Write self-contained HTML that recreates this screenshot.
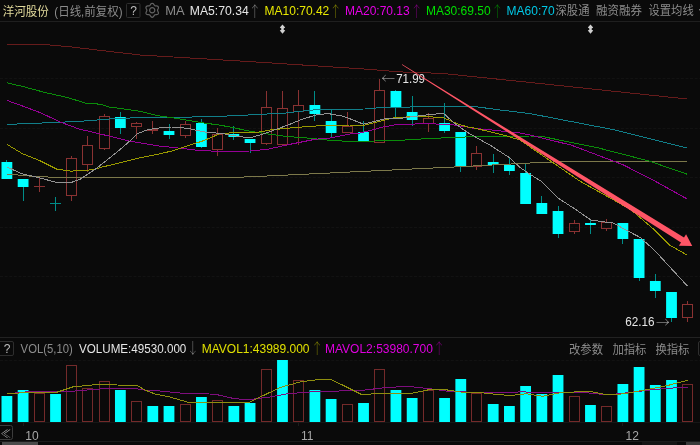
<!DOCTYPE html>
<html><head><meta charset="utf-8"><style>
html,body{margin:0;padding:0;background:#0a0a0a;width:700px;height:445px;overflow:hidden}
</style></head><body><svg width="700" height="445" viewBox="0 0 700 445" style="display:block;font-family:'Liberation Sans','Noto Sans CJK SC',sans-serif"><line x1="0" y1="78.5" x2="700" y2="78.5" stroke="#121212" stroke-width="1" stroke-dasharray="3 1.6"/><line x1="0" y1="128.5" x2="700" y2="128.5" stroke="#121212" stroke-width="1" stroke-dasharray="3 1.6"/><line x1="0" y1="177.5" x2="700" y2="177.5" stroke="#121212" stroke-width="1" stroke-dasharray="3 1.6"/><line x1="0" y1="227.5" x2="700" y2="227.5" stroke="#121212" stroke-width="1" stroke-dasharray="3 1.6"/><line x1="0" y1="276.5" x2="700" y2="276.5" stroke="#121212" stroke-width="1" stroke-dasharray="3 1.6"/><line x1="0" y1="360.5" x2="700" y2="360.5" stroke="#121212" stroke-width="1" stroke-dasharray="3 1.6"/><line x1="0" y1="21.5" x2="700" y2="21.5" stroke="#1f1f1f"/><line x1="0" y1="337.5" x2="700" y2="337.5" stroke="#222222"/><line x1="23.5" y1="423" x2="23.5" y2="426" stroke="#1c1c1c"/><line x1="298.5" y1="423" x2="298.5" y2="426" stroke="#1c1c1c"/><line x1="622.5" y1="423" x2="622.5" y2="426" stroke="#1c1c1c"/><line x1="0" y1="422.5" x2="700" y2="422.5" stroke="#161616"/><line x1="0" y1="441.5" x2="700" y2="441.5" stroke="#1c1c1c"/><line x1="6.5" y1="160" x2="6.5" y2="179" stroke="#008c88"/><rect x="1.50" y="162" width="10.8" height="17" fill="#00ffff"/><line x1="23.5" y1="179" x2="23.5" y2="201" stroke="#008c88"/><rect x="17.71" y="179" width="10.8" height="8" fill="#00ffff"/><line x1="39.5" y1="178" x2="39.5" y2="192" stroke="#8a3232"/><line x1="34" y1="186.5" x2="45" y2="186.5" stroke="#8a3232"/><line x1="55.5" y1="197" x2="55.5" y2="211" stroke="#008c88"/><line x1="50" y1="203.5" x2="61" y2="203.5" stroke="#008c88"/><line x1="71.5" y1="156" x2="71.5" y2="158" stroke="#8a3232"/><line x1="71.5" y1="196" x2="71.5" y2="201" stroke="#8a3232"/><rect x="66.5" y="158.5" width="10" height="37" fill="none" stroke="#8a3232"/><line x1="87.5" y1="136" x2="87.5" y2="145" stroke="#8a3232"/><line x1="87.5" y1="165" x2="87.5" y2="172" stroke="#8a3232"/><rect x="82.5" y="145.5" width="10" height="19" fill="none" stroke="#8a3232"/><line x1="104.5" y1="114" x2="104.5" y2="116" stroke="#8a3232"/><line x1="104.5" y1="149" x2="104.5" y2="150" stroke="#8a3232"/><rect x="99.5" y="116.5" width="10" height="32" fill="none" stroke="#8a3232"/><line x1="120.5" y1="112" x2="120.5" y2="134" stroke="#008c88"/><rect x="114.97" y="117" width="10.8" height="11" fill="#00ffff"/><line x1="136.5" y1="122" x2="136.5" y2="123" stroke="#8a3232"/><line x1="136.5" y1="127" x2="136.5" y2="139" stroke="#8a3232"/><rect x="131.5" y="123.5" width="10" height="3" fill="none" stroke="#8a3232"/><line x1="152.5" y1="121" x2="152.5" y2="129" stroke="#8a3232"/><line x1="152.5" y1="131" x2="152.5" y2="134" stroke="#8a3232"/><rect x="147.5" y="129.5" width="10" height="1" fill="none" stroke="#8a3232"/><line x1="169.5" y1="124" x2="169.5" y2="139" stroke="#008c88"/><rect x="163.60" y="131" width="10.8" height="4" fill="#00ffff"/><line x1="185.5" y1="121" x2="185.5" y2="124" stroke="#8a3232"/><line x1="185.5" y1="136" x2="185.5" y2="138" stroke="#8a3232"/><rect x="180.5" y="124.5" width="10" height="11" fill="none" stroke="#8a3232"/><line x1="201.5" y1="119" x2="201.5" y2="148" stroke="#008c88"/><rect x="196.02" y="123" width="10.8" height="24" fill="#00ffff"/><line x1="217.5" y1="128" x2="217.5" y2="134" stroke="#8a3232"/><line x1="217.5" y1="150" x2="217.5" y2="156" stroke="#8a3232"/><rect x="212.5" y="134.5" width="10" height="15" fill="none" stroke="#8a3232"/><line x1="233.5" y1="126" x2="233.5" y2="140" stroke="#008c88"/><rect x="228.44" y="134" width="10.8" height="3" fill="#00ffff"/><line x1="250.5" y1="139" x2="250.5" y2="153" stroke="#008c88"/><rect x="244.65" y="139" width="10.8" height="4" fill="#00ffff"/><line x1="266.5" y1="91" x2="266.5" y2="107" stroke="#8a3232"/><line x1="266.5" y1="144" x2="266.5" y2="145" stroke="#8a3232"/><rect x="261.5" y="107.5" width="10" height="36" fill="none" stroke="#8a3232"/><line x1="282.5" y1="91" x2="282.5" y2="108" stroke="#8a3232"/><rect x="277.5" y="108.5" width="10" height="36" fill="none" stroke="#8a3232"/><line x1="298.5" y1="90" x2="298.5" y2="105" stroke="#8a3232"/><line x1="298.5" y1="112" x2="298.5" y2="145" stroke="#8a3232"/><rect x="293.5" y="105.5" width="10" height="6" fill="none" stroke="#8a3232"/><line x1="314.5" y1="91" x2="314.5" y2="121" stroke="#008c88"/><rect x="309.49" y="105" width="10.8" height="9" fill="#00ffff"/><line x1="331.5" y1="110" x2="331.5" y2="138" stroke="#008c88"/><rect x="325.70" y="121" width="10.8" height="12" fill="#00ffff"/><line x1="347.5" y1="112" x2="347.5" y2="126" stroke="#8a3232"/><rect x="342.5" y="126.5" width="10" height="6" fill="none" stroke="#8a3232"/><line x1="363.5" y1="121" x2="363.5" y2="141" stroke="#008c88"/><rect x="358.12" y="132" width="10.8" height="9" fill="#00ffff"/><line x1="379.5" y1="79" x2="379.5" y2="90" stroke="#8a3232"/><rect x="374.5" y="90.5" width="10" height="52" fill="none" stroke="#8a3232"/><line x1="395.5" y1="90" x2="395.5" y2="117" stroke="#008c88"/><rect x="390.54" y="91" width="10.8" height="17" fill="#00ffff"/><line x1="412.5" y1="96" x2="412.5" y2="126" stroke="#008c88"/><rect x="406.75" y="112" width="10.8" height="8" fill="#00ffff"/><line x1="428.5" y1="113" x2="428.5" y2="118" stroke="#8a3232"/><line x1="428.5" y1="124" x2="428.5" y2="132" stroke="#8a3232"/><rect x="423.5" y="118.5" width="10" height="5" fill="none" stroke="#8a3232"/><line x1="444.5" y1="103" x2="444.5" y2="133" stroke="#008c88"/><rect x="439.17" y="123" width="10.8" height="8" fill="#00ffff"/><line x1="460.5" y1="132" x2="460.5" y2="172" stroke="#008c88"/><rect x="455.38" y="132" width="10.8" height="34" fill="#00ffff"/><line x1="476.5" y1="146" x2="476.5" y2="153" stroke="#8a3232"/><line x1="476.5" y1="167" x2="476.5" y2="170" stroke="#8a3232"/><rect x="471.5" y="153.5" width="10" height="13" fill="none" stroke="#8a3232"/><line x1="493.5" y1="154" x2="493.5" y2="173" stroke="#008c88"/><rect x="487.80" y="162" width="10.8" height="3" fill="#00ffff"/><line x1="509.5" y1="157" x2="509.5" y2="175" stroke="#008c88"/><rect x="504.01" y="165" width="10.8" height="6" fill="#00ffff"/><line x1="525.5" y1="164" x2="525.5" y2="204" stroke="#008c88"/><rect x="520.22" y="173" width="10.8" height="31" fill="#00ffff"/><line x1="541.5" y1="196" x2="541.5" y2="214" stroke="#008c88"/><rect x="536.43" y="203" width="10.8" height="11" fill="#00ffff"/><line x1="558.5" y1="206" x2="558.5" y2="238" stroke="#008c88"/><rect x="552.64" y="211" width="10.8" height="23" fill="#00ffff"/><line x1="574.5" y1="220" x2="574.5" y2="223" stroke="#8a3232"/><line x1="574.5" y1="232" x2="574.5" y2="234" stroke="#8a3232"/><rect x="569.5" y="223.5" width="10" height="8" fill="none" stroke="#8a3232"/><line x1="590.5" y1="220" x2="590.5" y2="234" stroke="#008c88"/><rect x="585.06" y="223" width="10.8" height="2" fill="#00ffff"/><line x1="606.5" y1="219" x2="606.5" y2="222" stroke="#8a3232"/><line x1="606.5" y1="229" x2="606.5" y2="231" stroke="#8a3232"/><rect x="601.5" y="222.5" width="10" height="6" fill="none" stroke="#8a3232"/><line x1="622.5" y1="223" x2="622.5" y2="244" stroke="#008c88"/><rect x="617.48" y="223" width="10.8" height="16" fill="#00ffff"/><line x1="639.5" y1="239" x2="639.5" y2="281" stroke="#008c88"/><rect x="633.69" y="239" width="10.8" height="39" fill="#00ffff"/><line x1="655.5" y1="274" x2="655.5" y2="298" stroke="#008c88"/><rect x="649.90" y="281" width="10.8" height="10" fill="#00ffff"/><line x1="671.5" y1="292" x2="671.5" y2="322" stroke="#008c88"/><rect x="666.11" y="292" width="10.8" height="26" fill="#00ffff"/><line x1="687.5" y1="301" x2="687.5" y2="304" stroke="#8a3232"/><line x1="687.5" y1="318" x2="687.5" y2="322" stroke="#8a3232"/><rect x="682.5" y="304.5" width="10" height="13" fill="none" stroke="#8a3232"/><polyline points="7.0,44.5 48.6,44.9 70.9,46.9 140.0,55.0 250.0,61.6 370.0,69.4 399.7,71.9 442.0,73.4 528.6,82.3 687.2,99.0" fill="none" stroke="#661b1b" stroke-width="1" stroke-linejoin="round" shape-rendering="crispEdges"/><polyline points="7.0,174.1 31.4,176.2 53.5,177.3 80.0,177.4 232.0,177.5 270.0,175.9 460.0,166.7 530.0,163.0 566.3,161.4 687.1,161.6" fill="none" stroke="#7c784a" stroke-width="1" stroke-linejoin="round" shape-rendering="crispEdges"/><polyline points="6.7,124.4 22.5,123.8 45.0,122.9 67.4,121.9 78.0,121.5 100.0,119.8 109.4,119.0 125.0,118.2 140.0,117.6 158.0,117.3 205.0,116.9 239.2,115.5 258.9,114.4 285.0,113.1 309.5,110.2 324.0,109.3 350.0,109.1 365.0,109.0 380.0,107.6 415.0,106.9 475.0,106.6 500.3,110.0 530.0,113.6 615.1,130.0 687.1,148.0" fill="none" stroke="#117f8a" stroke-width="1" stroke-linejoin="round" shape-rendering="crispEdges"/><polyline points="6.7,82.8 22.5,86.4 45.0,92.5 67.4,97.5 85.4,103.1 100.0,104.2 109.4,107.0 140.0,111.3 158.0,115.7 171.4,117.6 202.9,122.8 220.0,125.2 228.4,126.7 250.0,131.2 268.0,134.0 288.0,136.6 306.0,137.9 329.3,140.2 350.0,141.5 395.0,140.6 431.0,138.4 475.0,136.6 530.0,136.0 540.6,136.2 597.1,147.6 648.6,160.9 687.1,174.2" fill="none" stroke="#0a8c0a" stroke-width="1" stroke-linejoin="round" shape-rendering="crispEdges"/><polyline points="6.7,100.3 22.5,106.0 40.4,112.7 60.7,122.2 78.7,128.9 100.0,133.9 109.4,136.2 129.9,141.2 140.0,142.8 158.0,145.9 171.4,147.2 195.0,150.0 220.0,151.6 250.0,151.0 268.0,149.2 288.0,144.7 315.0,139.3 330.0,138.0 350.0,134.0 357.0,133.7 375.0,129.2 380.0,127.6 395.0,124.9 422.0,123.7 449.0,124.3 467.0,127.0 475.0,128.5 486.0,129.4 520.0,133.0 530.0,135.0 571.4,145.2 622.9,164.7 653.0,180.0 687.0,198.9" fill="none" stroke="#960096" stroke-width="1" stroke-linejoin="round" shape-rendering="crispEdges"/><polyline points="6.7,144.2 22.5,153.7 39.3,160.4 56.6,169.1 70.8,171.1 85.4,170.5 95.3,169.2 100.0,167.6 140.0,157.8 158.0,154.2 171.4,151.1 202.9,140.9 219.4,134.0 237.4,132.1 258.9,132.1 270.0,130.0 288.0,128.2 306.0,126.7 324.0,125.5 350.0,125.0 363.0,125.6 380.0,121.2 395.0,117.6 422.0,116.2 443.5,117.8 458.0,124.0 468.0,127.1 475.0,128.2 504.0,135.2 520.0,140.0 580.0,181.2 620.4,203.7 631.7,210.4 654.2,229.6 669.9,245.3 687.0,255.0" fill="none" stroke="#9a9a00" stroke-width="1" stroke-linejoin="round" shape-rendering="crispEdges"/><polyline points="7.0,167.0 22.0,173.8 39.3,177.7 55.0,182.1 72.3,182.1 80.0,179.3 95.3,169.2 117.3,151.9 129.9,140.9 137.7,133.5 147.2,129.9 155.7,128.3 171.4,127.0 187.2,128.3 206.0,132.2 223.0,133.6 233.8,135.7 250.0,137.9 264.3,133.6 273.3,130.4 288.0,125.0 302.4,119.2 318.5,114.2 329.3,113.8 342.0,116.0 348.0,118.0 363.3,124.1 385.3,118.6 403.3,118.0 422.0,115.4 443.5,113.3 454.3,123.1 467.0,132.1 491.4,146.0 509.3,157.6 520.1,167.5 530.2,174.5 542.0,181.7 558.5,198.4 575.0,209.0 591.0,220.1 613.4,223.1 626.0,230.0 640.3,237.5 655.0,250.8 687.6,286.3" fill="none" stroke="#939393" stroke-width="1" stroke-linejoin="round" shape-rendering="crispEdges"/><rect x="1.50" y="396" width="10.8" height="26" fill="#00ffff"/><rect x="17.71" y="390" width="10.8" height="32" fill="#00ffff"/><rect x="34.5" y="393.5" width="10" height="28" fill="none" stroke="#742a2a"/><rect x="50.13" y="394" width="10.8" height="28" fill="#00ffff"/><rect x="66.5" y="365.5" width="10" height="56" fill="none" stroke="#742a2a"/><rect x="82.5" y="388.5" width="10" height="33" fill="none" stroke="#742a2a"/><rect x="99.5" y="381.5" width="10" height="40" fill="none" stroke="#742a2a"/><rect x="114.97" y="390" width="10.8" height="32" fill="#00ffff"/><rect x="131.5" y="401.5" width="10" height="20" fill="none" stroke="#742a2a"/><rect x="147.39" y="406" width="10.8" height="16" fill="#00ffff"/><rect x="163.60" y="406" width="10.8" height="16" fill="#00ffff"/><rect x="180.5" y="404.5" width="10" height="17" fill="none" stroke="#742a2a"/><rect x="196.02" y="397" width="10.8" height="25" fill="#00ffff"/><rect x="212.5" y="400.5" width="10" height="21" fill="none" stroke="#742a2a"/><rect x="228.44" y="406" width="10.8" height="16" fill="#00ffff"/><rect x="244.65" y="403" width="10.8" height="19" fill="#00ffff"/><rect x="261.5" y="369.5" width="10" height="52" fill="none" stroke="#742a2a"/><rect x="277.07" y="360" width="10.8" height="62" fill="#00ffff"/><rect x="293.5" y="380.5" width="10" height="41" fill="none" stroke="#742a2a"/><rect x="309.49" y="390" width="10.8" height="32" fill="#00ffff"/><rect x="325.70" y="399" width="10.8" height="23" fill="#00ffff"/><rect x="342.5" y="404.5" width="10" height="17" fill="none" stroke="#742a2a"/><rect x="358.12" y="403" width="10.8" height="19" fill="#00ffff"/><rect x="374.5" y="369.5" width="10" height="52" fill="none" stroke="#742a2a"/><rect x="390.54" y="390" width="10.8" height="32" fill="#00ffff"/><rect x="406.75" y="398" width="10.8" height="24" fill="#00ffff"/><rect x="423.5" y="390.5" width="10" height="31" fill="none" stroke="#742a2a"/><rect x="439.17" y="398" width="10.8" height="24" fill="#00ffff"/><rect x="455.38" y="379" width="10.8" height="43" fill="#00ffff"/><rect x="471.5" y="393.5" width="10" height="28" fill="none" stroke="#742a2a"/><rect x="487.80" y="404" width="10.8" height="18" fill="#00ffff"/><rect x="504.01" y="406" width="10.8" height="16" fill="#00ffff"/><rect x="520.22" y="386" width="10.8" height="36" fill="#00ffff"/><rect x="536.43" y="394" width="10.8" height="28" fill="#00ffff"/><rect x="552.64" y="375" width="10.8" height="47" fill="#00ffff"/><rect x="569.5" y="396.5" width="10" height="25" fill="none" stroke="#742a2a"/><rect x="585.06" y="405" width="10.8" height="17" fill="#00ffff"/><rect x="601.5" y="406.5" width="10" height="15" fill="none" stroke="#742a2a"/><rect x="617.48" y="384" width="10.8" height="38" fill="#00ffff"/><rect x="633.69" y="367" width="10.8" height="55" fill="#00ffff"/><rect x="649.90" y="385" width="10.8" height="37" fill="#00ffff"/><rect x="666.11" y="380" width="10.8" height="42" fill="#00ffff"/><rect x="682.5" y="384.5" width="10" height="37" fill="none" stroke="#742a2a"/><polyline points="7.5,393.8 25.0,392.0 72.5,391.2 105.0,388.6 135.0,388.6 145.0,390.2 160.0,391.0 180.0,393.0 215.0,394.2 235.0,398.8 250.0,399.5 270.0,397.0 287.5,393.8 310.0,392.0 345.0,390.8 357.5,390.8 382.5,388.0 407.5,386.2 430.0,388.8 447.5,391.2 477.5,392.5 515.0,392.5 520.9,391.6 537.0,393.0 564.3,392.2 588.7,393.0 607.7,394.9 629.4,392.5 653.9,389.5 670.0,388.1 687.8,387.6" fill="none" stroke="#7e0e7e" stroke-width="1" stroke-linejoin="round" shape-rendering="crispEdges"/><polyline points="7.5,394.0 25.0,392.5 56.0,392.5 72.5,387.0 97.5,384.5 137.0,385.5 145.0,390.0 155.0,394.0 170.0,397.0 187.0,402.0 250.0,402.0 280.0,387.5 300.0,382.0 315.0,380.0 330.0,379.2 345.0,386.2 362.5,395.0 380.0,393.0 412.5,393.2 427.5,390.0 442.5,389.2 460.0,392.0 480.0,392.5 495.0,394.2 510.0,395.5 526.3,393.8 542.6,396.3 558.9,393.0 588.7,391.1 607.7,394.9 624.0,393.8 651.0,388.9 670.0,384.9 687.8,380.2" fill="none" stroke="#8e8e0e" stroke-width="1" stroke-linejoin="round" shape-rendering="crispEdges"/><text x="2.64" y="15.700000000000001" fill="#e2da9c" font-size="12" textLength="46.18" lengthAdjust="spacingAndGlyphs">洋河股份</text><text x="54.34" y="15.700000000000001" fill="#8c8c8c" font-size="12" textLength="68.27" lengthAdjust="spacingAndGlyphs">(日线,前复权)</text><rect x="126.5" y="3.5" width="13.5" height="14" rx="1" fill="none" stroke="#2e2e2e"/><text x="133.5" y="14.8" fill="#bdbdbd" font-size="12" text-anchor="middle">?</text><g transform="translate(152.2,10.3)" fill="none" stroke="#626262" stroke-width="1.2"><circle r="2.6"/><path d="M5.30,-0.00 L5.39,-0.47 L5.64,-0.99 L5.94,-1.59 L6.18,-2.25 L6.24,-2.91 L6.06,-3.50 L5.64,-3.95 L5.04,-4.23 L4.35,-4.35 L3.68,-4.39 L3.11,-4.43 L2.65,-4.59 L2.29,-4.91 L1.96,-5.38 L1.59,-5.94 L1.14,-6.48 L0.60,-6.86 L0.00,-7.00 L-0.60,-6.86 L-1.14,-6.48 L-1.59,-5.94 L-1.96,-5.38 L-2.29,-4.91 L-2.65,-4.59 L-3.11,-4.43 L-3.68,-4.39 L-4.35,-4.35 L-5.04,-4.23 L-5.64,-3.95 L-6.06,-3.50 L-6.24,-2.91 L-6.18,-2.25 L-5.94,-1.59 L-5.64,-0.99 L-5.39,-0.47 L-5.30,-0.00 L-5.39,0.47 L-5.64,0.99 L-5.94,1.59 L-6.18,2.25 L-6.24,2.91 L-6.06,3.50 L-5.64,3.95 L-5.04,4.23 L-4.35,4.35 L-3.68,4.39 L-3.11,4.43 L-2.65,4.59 L-2.29,4.91 L-1.96,5.38 L-1.59,5.94 L-1.14,6.48 L-0.60,6.86 L-0.00,7.00 L0.60,6.86 L1.14,6.48 L1.59,5.94 L1.96,5.38 L2.29,4.91 L2.65,4.59 L3.11,4.43 L3.68,4.39 L4.35,4.35 L5.04,4.23 L5.64,3.95 L6.06,3.50 L6.24,2.91 L6.18,2.25 L5.94,1.59 L5.64,0.99 L5.39,0.47 Z"/></g><text x="165.32" y="15.3" fill="#8c8c8c" font-size="12" textLength="19.38" lengthAdjust="spacingAndGlyphs">MA</text><text x="189.78" y="15.3" fill="#e6e6e6" font-size="12" textLength="58.96" lengthAdjust="spacingAndGlyphs">MA5:70.34</text><text transform="translate(248.6,16.5) scale(0.85,1)" fill="#8c8c8c" font-size="15" font-family="Noto Sans CJK SC, sans-serif" font-weight="100">↑</text><text x="264.55" y="15.3" fill="#e8e800" font-size="12">MA10:70.42</text><text transform="translate(329.2,16.5) scale(0.85,1)" fill="#8a8a00" font-size="15" font-family="Noto Sans CJK SC, sans-serif" font-weight="100">↑</text><text x="345.00" y="15.3" fill="#e600e6" font-size="12">MA20:70.13</text><text transform="translate(410.2,16.5) scale(0.85,1)" fill="#8a008a" font-size="15" font-family="Noto Sans CJK SC, sans-serif" font-weight="100">↑</text><text x="425.95" y="15.3" fill="#00e000" font-size="12">MA30:69.50</text><text transform="translate(491,16.5) scale(0.85,1)" fill="#008a00" font-size="15" font-family="Noto Sans CJK SC, sans-serif" font-weight="100">↑</text><text x="506.60" y="15.3" fill="#00c8e6" font-size="12">MA60:70</text><text x="555.5" y="15.4" fill="#8c8c8c" font-size="12" textLength="34.01" lengthAdjust="spacingAndGlyphs">深股通</text><text x="596.0" y="15.4" fill="#8c8c8c" font-size="12" textLength="45.91" lengthAdjust="spacingAndGlyphs">融资融券</text><text x="648.5" y="15.4" fill="#8c8c8c" font-size="12" textLength="45.21" lengthAdjust="spacingAndGlyphs">设置均线</text><text x="697.6" y="12.5" fill="#8c8c8c" font-size="7">▼</text><path d="M282.5,24.4 L285.2,27.6 L283.7,28.4 L283.7,29.8 L285.2,30.6 L282.5,33.8 L279.8,30.6 L281.3,29.8 L281.3,28.4 L279.8,27.6 Z" fill="#d0d0d0"/><path d="M590.5,24.4 L593.2,27.6 L591.7,28.4 L591.7,29.8 L593.2,30.6 L590.5,33.8 L587.8,30.6 L589.3,29.8 L589.3,28.4 L587.8,27.6 Z" fill="#d0d0d0"/><text transform="translate(381.4,83.4) scale(0.97,1)" fill="#bbbbbb" font-size="14" font-family="Noto Sans CJK SC, sans-serif" font-weight="100">←</text><text x="396.2" y="82.6" fill="#e6e6e6" font-size="12" textLength="28.83" lengthAdjust="spacingAndGlyphs">71.99</text><text x="625.3" y="326" fill="#e6e6e6" font-size="12" textLength="29.33" lengthAdjust="spacingAndGlyphs">62.16</text><text transform="translate(656,326.6) scale(0.97,1)" fill="#bbbbbb" font-size="14" font-family="Noto Sans CJK SC, sans-serif" font-weight="100">→</text><rect x="-4.5" y="341.5" width="18" height="14" rx="1.5" fill="none" stroke="#2e2e2e"/><text x="7" y="352.8" fill="#bdbdbd" font-size="12" text-anchor="middle">?</text><text x="20.6" y="353.3" fill="#8c8c8c" font-size="12" textLength="52.14" lengthAdjust="spacingAndGlyphs">VOL(5,10)</text><text x="79.0" y="353.3" fill="#e6e6e6" font-size="12" textLength="107.33" lengthAdjust="spacingAndGlyphs">VOLUME:49530.000</text><text transform="translate(186.4,353) scale(0.85,1)" fill="#8c8c8c" font-size="15" font-family="Noto Sans CJK SC, sans-serif" font-weight="100">↓</text><text x="201.70" y="353.3" fill="#e0e000" font-size="12">MAVOL1:43989.000</text><text transform="translate(310.8,354) scale(0.85,1)" fill="#8a8a00" font-size="15" font-family="Noto Sans CJK SC, sans-serif" font-weight="100">↑</text><text x="325.00" y="353.3" fill="#e000e0" font-size="12">MAVOL2:53980.700</text><text transform="translate(432.8,354) scale(0.85,1)" fill="#8a008a" font-size="15" font-family="Noto Sans CJK SC, sans-serif" font-weight="100">↑</text><text x="569.06" y="354.1" fill="#8c8c8c" font-size="12" textLength="33.96" lengthAdjust="spacingAndGlyphs">改参数</text><text x="612.4" y="354.1" fill="#8c8c8c" font-size="12" textLength="34.01" lengthAdjust="spacingAndGlyphs">加指标</text><text x="655.4" y="354.1" fill="#8c8c8c" font-size="12" textLength="34.11" lengthAdjust="spacingAndGlyphs">换指标</text><rect x="698.5" y="341.5" width="10" height="14" rx="1.5" fill="none" stroke="#2e2e2e"/><rect x="-4.5" y="425.5" width="17" height="14" rx="2" fill="none" stroke="#3c3c3c"/><text x="0" y="438" fill="#bdbdbd" font-size="12.5" font-family="NanumGothic, sans-serif">«</text><text x="25.35" y="440.3" fill="#a8a8a8" font-size="12">10</text><text x="301.05" y="440.3" fill="#a8a8a8" font-size="12">11</text><text x="625.50" y="440.3" fill="#a8a8a8" font-size="12">12</text><rect x="2" y="442" width="36" height="3" fill="#4a4a4a"/><rect x="642" y="442" width="35" height="3" fill="#151515"/><rect x="686" y="442" width="14" height="3" fill="#3a3a3a"/><polygon points="401.84,64.85 680.99,242.42 678.92,245.72 692.25,246.10 686.08,234.28 684.01,237.58 402.16,64.35" fill="#ff5566"/></svg></body></html>
